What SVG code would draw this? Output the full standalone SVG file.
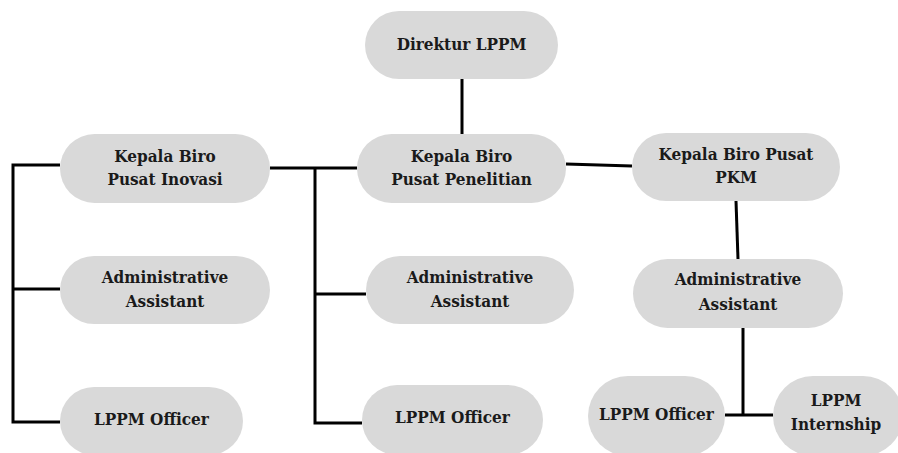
<svg xmlns="http://www.w3.org/2000/svg" width="898" height="453" viewBox="0 0 898 453">
<style>
.n{fill:#d9d9d9}
.t{font-family:'DejaVu Serif Condensed','DejaVu Serif',serif;font-stretch:semi-condensed;font-weight:bold;font-size:17px;fill:#1a1a1a;text-anchor:middle}
.c{stroke:#000;stroke-width:3;fill:none}
</style>
<rect width="898" height="453" fill="#fff"/>
<g id="connectors">
<line class="c" x1="462" y1="79" x2="462" y2="134"/>
<line class="c" x1="270" y1="168" x2="357" y2="168"/>
<polyline class="c" points="315,168 315,423 362,423"/>
<line class="c" x1="315" y1="294" x2="366" y2="294"/>
<polyline class="c" points="60,165 13,165 13,422 60,422"/>
<line class="c" x1="13" y1="289" x2="60" y2="289"/>
<line class="c" x1="566" y1="164" x2="632" y2="166"/>
<line class="c" x1="736" y1="201" x2="738" y2="259"/>
<line class="c" x1="743" y1="328" x2="743" y2="415"/>
<line class="c" x1="725" y1="415" x2="773" y2="415"/>
</g>
<g id="direktur"><rect class="n" x="365" y="11" width="193" height="68" rx="34"/><text class="t" x="461.5" y="50">Direktur LPPM</text></g>
<g id="inovasi"><rect class="n" x="60" y="134" width="210" height="69" rx="34.5"/><text class="t" x="165" y="162">Kepala Biro</text><text class="t" x="165" y="185">Pusat Inovasi</text></g>
<g id="penelitian"><rect class="n" x="357" y="134" width="209" height="69" rx="34.5"/><text class="t" x="461.5" y="162">Kepala Biro</text><text class="t" x="461.5" y="185">Pusat Penelitian</text></g>
<g id="pkm"><rect class="n" x="632" y="133" width="208" height="68" rx="34"/><text class="t" x="736" y="160">Kepala Biro Pusat</text><text class="t" x="736" y="183">PKM</text></g>
<g id="admin-left"><rect class="n" x="60" y="256" width="210" height="68" rx="34"/><text class="t" x="165" y="283">Administrative</text><text class="t" x="165" y="307">Assistant</text></g>
<g id="admin-mid"><rect class="n" x="366" y="256" width="208" height="68" rx="34"/><text class="t" x="470" y="283">Administrative</text><text class="t" x="470" y="307">Assistant</text></g>
<g id="admin-right"><rect class="n" x="633" y="259" width="210" height="69" rx="34.5"/><text class="t" x="738" y="285">Administrative</text><text class="t" x="738" y="310">Assistant</text></g>
<g id="officer-left"><rect class="n" x="60" y="387" width="183" height="68" rx="34"/><text class="t" x="151.5" y="425">LPPM Officer</text></g>
<g id="officer-mid"><rect class="n" x="362" y="385" width="181" height="70" rx="35"/><text class="t" x="452.5" y="423">LPPM Officer</text></g>
<g id="officer-right"><rect class="n" x="588" y="376" width="137" height="80" rx="40"/><text class="t" x="656.5" y="420">LPPM Officer</text></g>
<g id="internship"><rect class="n" x="773" y="376" width="130" height="80" rx="40"/><text class="t" x="836" y="406">LPPM</text><text class="t" x="836" y="430">Internship</text></g>
</svg>
